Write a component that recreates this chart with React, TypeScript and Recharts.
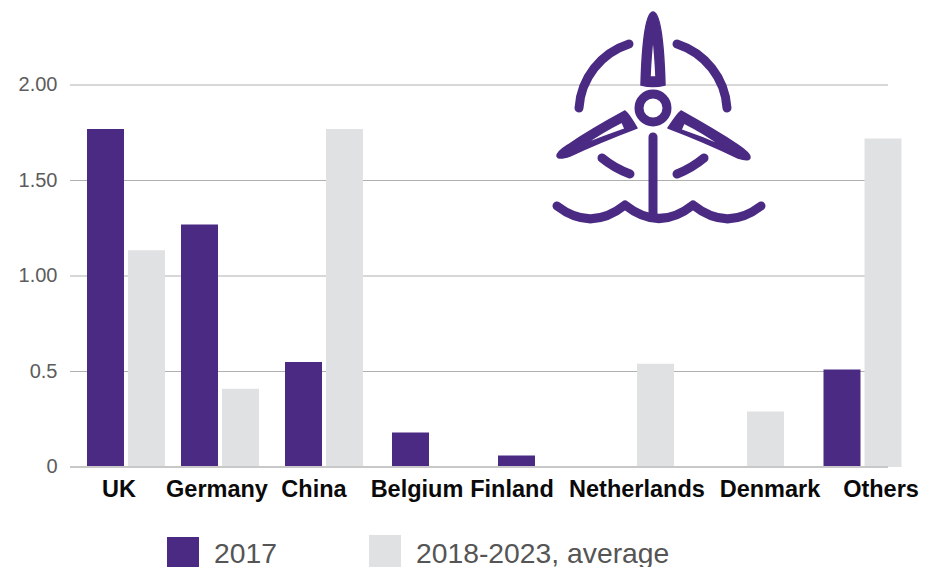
import React from 'react';
import { BarChart, Bar, XAxis, YAxis, CartesianGrid, Legend } from 'recharts';

const countries = ['UK', 'Germany', 'China', 'Belgium', 'Finland', 'Netherlands', 'Denmark', 'Others'];
const values2017 = [1.77, 1.27, 0.55, 0.18, 0.06, null, null, 0.51];
const valuesAverage = [1.135, 0.41, 1.77, null, null, 0.54, 0.29, 1.72];
const yTicks = [0, 0.5, 1, 1.5, 2];
const yTickLabels = ['0', '0.5', '1.00', '1.50', '2.00'];

// the source spaces its groups and labels by hand, so the x axes are numeric
const groupSlots = [126, 220, 324, 431, 537, 635, 745, 862.5];
const labelSlots = [119, 217, 314, 417, 512, 637, 770, 881];
const xDomain: [number, number] = [70, 888];

const PURPLE = '#4b2a84';
const GREY = '#e0e1e3';
const FONT = '"Liberation Sans", Arial, sans-serif';

const data = countries.map((name, i) => ({
  name,
  slot: groupSlots[i],
  y2017: values2017[i],
  average: valuesAverage[i],
}));

const legendPlacement = [
  { box: 167, boxTop: 537, boxHeight: 30, text: 214 },
  { box: 369, boxTop: 535, boxHeight: 32, text: 416 },
];

const ChartLegend = ({ payload }: any) => (
  <div style={{ position: 'relative', width: 942, height: 567 }}>
    {(payload || []).map((entry: any, i: number) => {
      const p = legendPlacement[i];
      return (
        <React.Fragment key={entry.value}>
          <div
            style={{
              position: 'absolute',
              left: p.box,
              top: p.boxTop,
              width: 32,
              height: p.boxHeight,
              background: entry.color,
            }}
          />
          <div
            style={{
              position: 'absolute',
              left: p.text,
              top: 535,
              fontFamily: FONT,
              fontSize: 28.3,
              lineHeight: '36px',
              color: '#555',
              whiteSpace: 'nowrap',
            }}
          >
            {entry.value}
          </div>
        </React.Fragment>
      );
    })}
  </div>
);

const TurbineIcon = () => (
  <svg
    width={942}
    height={567}
    style={{ position: 'absolute', left: 0, top: 0, pointerEvents: 'none' }}
  >
    <g fill={PURPLE} fillRule="evenodd" stroke={PURPLE} strokeWidth={1.5} strokeLinejoin="round">
      <path d="M641 85 C642 50 645 12 653 12 C661 12 664 50 665 85 Q653 88 641 85 Z M650 77 L656 77 Q655 55 653 37 Q651 55 650 77 Z" />
      <path d="M625 111 Q629 114 637 128 Q600 142 570 156 Q558 160 557 156 Q557 152 568 145 Q590 130 625 111 Z M585 144 Q605 136 625 129 L622 122 Q602 132 585 144 Z" />
      <path d="M681 111 Q677 114 668 128 Q705 142 738 158 Q750 162 750 157 Q750 153 738 145 Q715 130 681 111 Z M722 146 Q702 137 681 130 L684 123 Q704 133 722 146 Z" />
    </g>
    <g fill="none" stroke={PURPLE} strokeLinecap="round" strokeLinejoin="round" strokeWidth={9}>
      <circle cx={653} cy={108} r={14} />
      <path d="M653 137 L653 217" />
      <path d="M557 206 Q591 232 625 205 Q659 232 693 205 Q727 232 761 206" />
      <path d="M629 44 A72 72 0 0 0 579 108" />
      <path d="M677 44 A72 72 0 0 1 727 108" />
      <path d="M602 158 Q614 168 630 174" />
      <path d="M704 158 Q692 168 677 174" />
    </g>
  </svg>
);

const App = () => {
  return (
    <div style={{ position: 'absolute', left: 0, top: 0, width: 942, height: 567, overflow: 'hidden', background: '#fff' }}>
      <BarChart
        width={942}
        height={567}
        data={data}
        margin={{ top: 85, right: 54, left: 0, bottom: 0 }}
        barSize={37}
        barGap={4}
      >
        <CartesianGrid horizontal vertical={false} stroke="#b0b0b0" strokeWidth={1} />
        <XAxis xAxisId="bars" dataKey="slot" type="number" domain={xDomain} height={0} hide />
        <XAxis
          xAxisId="labels"
          dataKey="slot"
          type="number"
          domain={xDomain}
          ticks={labelSlots}
          interval={0}
          height={100}
          tickLine={false}
          axisLine={{ stroke: '#c8c8c8', strokeWidth: 2 }}
          tickFormatter={(v: number) => countries[labelSlots.indexOf(v)]}
          tick={{ fill: '#0a0a0a', fontSize: 23.5, fontWeight: 700, fontFamily: FONT }}
          tickMargin={7}
        />
        <YAxis
          width={70}
          domain={[0, 2]}
          ticks={yTicks}
          tickLine={false}
          axisLine={false}
          tickFormatter={(v: number) => yTickLabels[yTicks.indexOf(v)]}
          tick={{ fill: '#5c5c5c', fontSize: 20, fontFamily: FONT, dy: -1 }}
          tickMargin={6.5}
        />
        <Legend
          layout="horizontal"
          verticalAlign="middle"
          align="center"
          wrapperStyle={{ left: 0, top: 0, width: 942, height: 567, pointerEvents: 'none' }}
          content={<ChartLegend />}
        />
        <Bar xAxisId="bars" dataKey="y2017" name="2017" fill={PURPLE} isAnimationActive={false} />
        <Bar xAxisId="bars" dataKey="average" name="2018-2023, average" fill={GREY} isAnimationActive={false} />
      </BarChart>
      <TurbineIcon />
    </div>
  );
};

export default App;
